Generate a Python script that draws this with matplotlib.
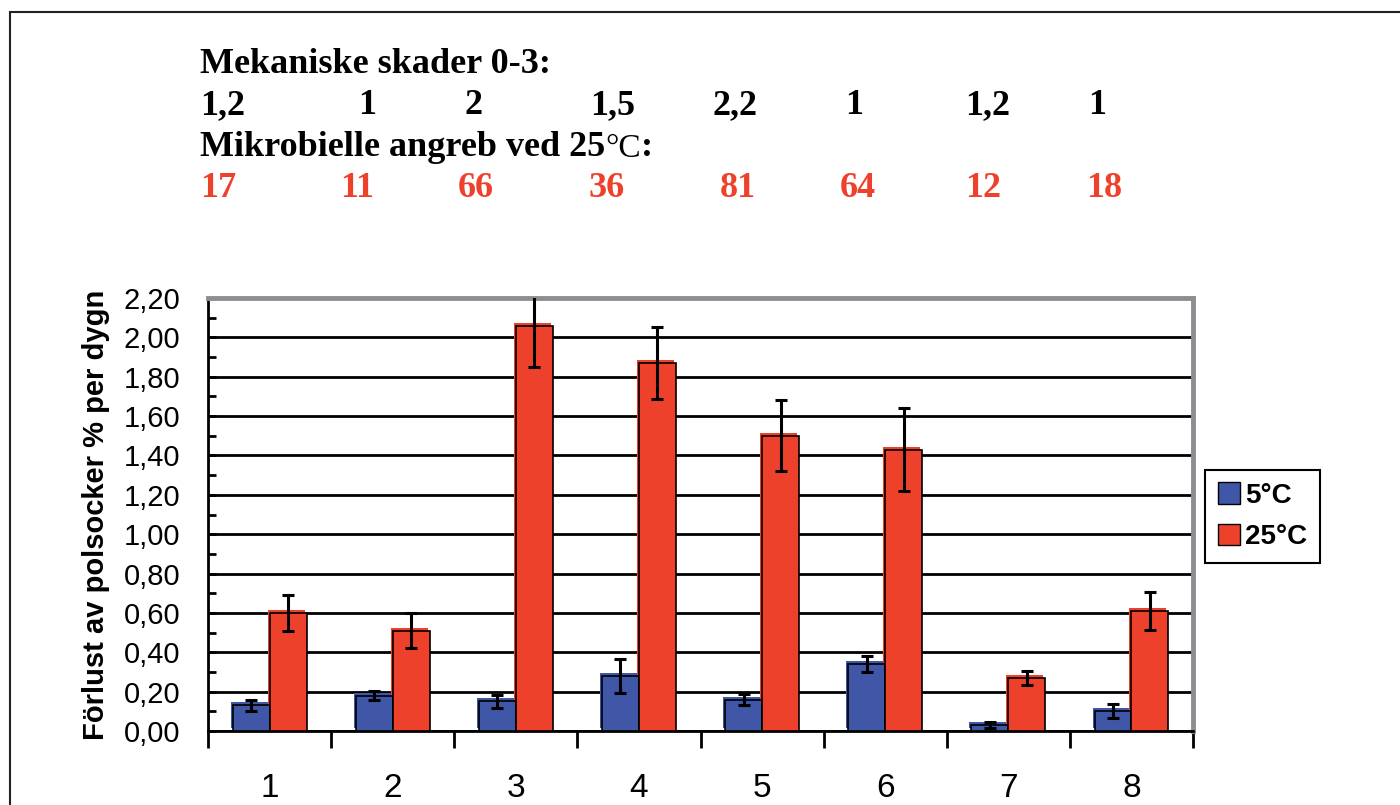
import matplotlib.pyplot as plt
import matplotlib.transforms as mtransforms
from matplotlib.patches import Patch, Rectangle
from matplotlib.ticker import FuncFormatter, MultipleLocator
import numpy as np

# data
groups = ["1", "2", "3", "4", "5", "6", "7", "8"]
cold = [0.13, 0.18, 0.15, 0.28, 0.16, 0.34, 0.03, 0.10]          # 5°C
cold_err = [0.03, 0.025, 0.035, 0.085, 0.03, 0.04, 0.015, 0.035]
warm = [0.60, 0.51, 2.06, 1.87, 1.50, 1.43, 0.27, 0.61]          # 25°C
warm_err = [0.09, 0.09, 0.21, 0.185, 0.18, 0.21, 0.035, 0.095]
mech = ["1,2", "1", "2", "1,5", "2,2", "1", "1,2", "1"]
micro = ["17", "11", "66", "36", "81", "64", "12", "18"]

BLUE = "#3F57A6"
RED = "#EE412B"

W, H = 1400, 805
fig = plt.figure(figsize=(14, 8.05), dpi=100)
fig.patch.set_facecolor("white")

# frame around the whole graphic (runs off right/bottom)
fig.patches.append(Rectangle((10 / W, -0.2), 1.2, 1 - 12 / H + 0.2,
                             transform=fig.transFigure, fill=False,
                             edgecolor="#222222", linewidth=1.5))

ax = fig.add_axes([208 / W, 1 - 731 / H, (1193 - 208) / W, (731 - 298) / H])
x = np.arange(len(groups))
bw = 0.3

# fill is slightly offset from the outline, like the printed original
shift = ax.transData + mtransforms.ScaledTranslation(-2 / 100, 3 / 100, fig.dpi_scale_trans)
ax.bar(x - bw / 2, cold, bw, color=BLUE, transform=shift, zorder=2)
ax.bar(x + bw / 2, warm, bw, color=RED, transform=shift, zorder=2)
ax.bar(x - bw / 2, cold, bw, color=BLUE, edgecolor="black", linewidth=1.2, zorder=3)
ax.bar(x + bw / 2, warm, bw, color=RED, edgecolor="black", linewidth=1.2, zorder=3)
ax.errorbar(x - bw / 2, cold, yerr=cold_err, fmt="none", ecolor="black",
            elinewidth=2.2, capsize=4.5, capthick=2.2, zorder=4)
ax.errorbar(x + bw / 2, warm, yerr=warm_err, fmt="none", ecolor="black",
            elinewidth=2.2, capsize=4.5, capthick=2.2, zorder=4)

ax.set_xlim(-0.5, len(groups) - 0.5)
ax.set_ylim(0, 2.2)
ax.yaxis.set_major_locator(MultipleLocator(0.2))
ax.yaxis.set_minor_locator(MultipleLocator(0.1))
ax.yaxis.set_major_formatter(FuncFormatter(lambda v, p: f"{v:.2f}".replace(".", ",")))
ax.grid(axis="y", color="black", linewidth=2, zorder=0)
ax.set_axisbelow(True)

# category labels centred, ticks on group boundaries
ax.set_xticks(np.arange(len(groups) + 1) - 0.5)
ax.set_xticklabels([])
ax.set_xticks(x, minor=True)
ax.set_xticklabels(groups, minor=True, fontsize=24, family="Liberation Sans")
ax.tick_params(axis="x", which="major", direction="out", length=12, width=2)
ax.tick_params(axis="x", which="minor", length=0, pad=30)
ax.tick_params(axis="y", which="major", direction="in", length=6, width=2,
               labelsize=21, pad=20)
ax.tick_params(axis="y", which="minor", direction="in", length=6, width=2)
for lbl in ax.get_yticklabels():
    lbl.set_family("Liberation Sans")

for s in ("left", "bottom"):
    ax.spines[s].set_color("black")
    ax.spines[s].set_linewidth(2)
for s in ("top", "right"):
    ax.spines[s].set_color("#8C8E91")
    ax.spines[s].set_linewidth(3.5)

ax.set_ylabel("Förlust av polsocker % per dygn", fontsize=21, fontweight="bold",
              family="Liberation Sans", labelpad=10)

handles = [Patch(facecolor=BLUE, edgecolor="black", label="5°C"),
           Patch(facecolor=RED, edgecolor="black", label="25°C")]
leg = fig.legend(handles=handles, loc="upper left", bbox_to_anchor=(1205 / W, 1 - 470 / H),
                 fancybox=False, edgecolor="black", framealpha=1,
                 prop={"family": "Liberation Sans", "weight": "bold", "size": 20},
                 handlelength=0.8, handleheight=0.8, handletextpad=0.2,
                 borderpad=0.45, labelspacing=0.55, borderaxespad=0)
leg.get_frame().set_linewidth(1.5)

# header text above the chart
serif = dict(family="Liberation Serif", fontweight="bold", fontsize=26, va="baseline")
fig.text(200 / W, 1 - 73 / H, "Mekaniske skader 0-3:", **serif)
mech_x = [200, 358, 465, 590, 712, 845, 965, 1088]
for xp, t in zip(mech_x, mech):
    fig.text(xp / W, 1 - 114 / H, t, **serif)
t1 = fig.text(200 / W, 1 - 156 / H, "Mikrobielle angreb ved 25", **serif)
t2 = ax.annotate("°C", xy=(1, 0), xycoords=t1, va="bottom", ha="left",
                 family="Liberation Serif", fontsize=24)
ax.annotate(":", xy=(1, 0), xycoords=t2, va="bottom", ha="left",
            family="Liberation Serif", fontweight="bold", fontsize=26)
micro_x = [200, 340, 458, 588, 720, 840, 965, 1086]
for xp, t in zip(micro_x, micro):
    fig.text(xp / W, 1 - 197 / H, t, color=RED, **serif)

fig.savefig("out.png", dpi=100)
